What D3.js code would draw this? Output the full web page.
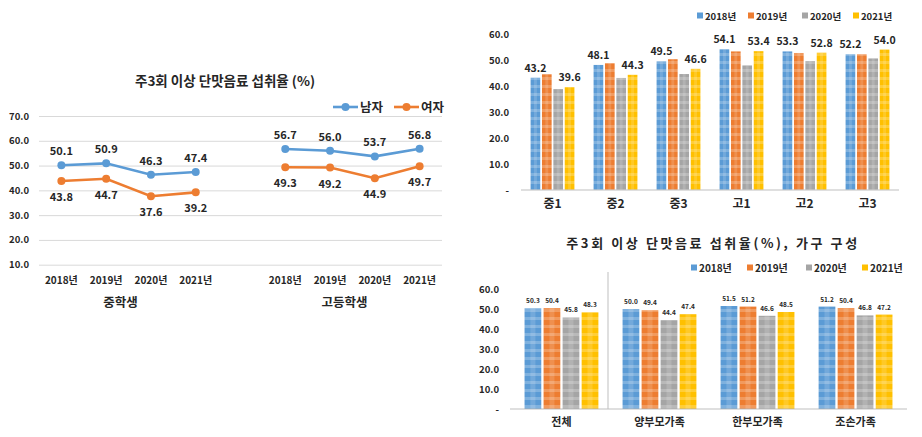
<!DOCTYPE html>
<html><head><meta charset="utf-8">
<script src="https://cdn.jsdelivr.net/npm/d3@7"></script>
<style>body{margin:0;background:#fff}svg{display:block}text{font-family:"Noto Sans CJK KR","Noto Sans",sans-serif;font-weight:700;fill:#262626}</style>
</head><body><svg id="c" width="922" height="437"></svg>
<script>
// ---- data ----
const lineYears = ["2018년","2019년","2020년","2021년"];
const lineGroups = ["중학생","고등학생"];
const maleValues = [50.1,50.9,46.3,47.4,56.7,56.0,53.7,56.8];
const femaleValues = [43.8,44.7,37.6,39.2,49.3,49.2,44.9,49.7];
const lineTicks = [10,20,30,40,50,60,70];

const barYears = ["2018년","2019년","2020년","2021년"];
const gradeCats = ["중1","중2","중3","고1","고2","고3"];
const grade2018 = [43.2,48.1,49.5,54.1,53.3,52.2];
const grade2019 = [44.5,48.8,50.3,53.3,52.7,52.2];
const grade2020 = [38.8,43.1,44.6,47.9,49.6,50.6];
const grade2021 = [39.6,44.3,46.6,53.4,52.8,54.0];
const gradeTicks = [0,10,20,30,40,50,60];

const familyCats = ["전체","양부모가족","한부모가족","조손가족"];
const family2018 = [50.3,50.0,51.5,51.2];
const family2019 = [50.4,49.4,51.2,50.4];
const family2020 = [45.8,44.4,46.6,46.8];
const family2021 = [48.3,47.4,48.5,47.2];
const familyTicks = [0,10,20,30,40,50,60];

const colors = ["#5B9BD5","#ED7D31","#A5A5A5","#FFC000"];
const svg = d3.select("#c");
const fmt = d3.format(".1f");
const tickFmt = v => v === 0 ? "-" : fmt(v);

// patterns
const defs = svg.append("defs");
colors.forEach((c,i)=>{
  const p = defs.append("pattern").attr("id","pat"+i).attr("patternUnits","userSpaceOnUse")
    .attr("width",8).attr("height",8);
  p.append("rect").attr("width",8).attr("height",8).attr("fill",c);
  p.append("rect").attr("y",5).attr("width",8).attr("height",3).attr("fill","#fff").attr("opacity",0.22);
});

// ---- left line chart ----
{
  const y = d3.scaleLinear().domain([10,70]).range([264.7,116]);
  const slots = d3.range(9);
  const x = d3.scaleBand().domain(slots).range([39,442]);
  const cx = k => { const g = Math.floor(k/4), i = k%4; return x(g*5+i)+x.bandwidth()/2; };
  svg.append("text").attr("x",225).attr("y",85.5).attr("text-anchor","middle").attr("font-size",13.5).text("주3회 이상 단맛음료 섭취율 (%)");
  const gy = svg.append("g").attr("transform","translate(39,0)")
    .call(d3.axisLeft(y).tickValues(lineTicks).tickFormat(fmt).tickSize(-403).tickPadding(10));
  gy.select(".domain").remove();
  gy.selectAll("line").attr("stroke","#d9d9d9").attr("stroke-width",1);
  gy.selectAll("text").attr("font-size",9.5).style("font-family","'Noto Sans CJK KR',sans-serif").attr("font-weight",700).attr("fill","#262626");
  // x labels
  lineGroups.forEach((g,gi)=>{
    lineYears.forEach((yr,i)=>{
      svg.append("text").attr("x",cx(gi*4+i)).attr("y",284).attr("text-anchor","middle").attr("font-size",10).text(yr);
    });
    const mid = (cx(gi*4)+cx(gi*4+3))/2 - 8;
    svg.append("text").attr("x",mid).attr("y",307).attr("text-anchor","middle").attr("font-size",12.5).text(g);
  });
  const series = [{v:maleValues,c:colors[0],dy:-10},{v:femaleValues,c:colors[1],dy:20}];
  const line = d3.line().x(d=>cx(d.k)).y(d=>y(d.v));
  series.forEach(s=>{
    lineGroups.forEach((g,gi)=>{
      const pts = d3.range(4).map(i=>({k:gi*4+i,v:s.v[gi*4+i]}));
      svg.append("path").attr("d",line(pts)).attr("fill","none").attr("stroke",s.c).attr("stroke-width",2.6);
      svg.selectAll(null).data(pts).enter().append("circle").attr("cx",d=>cx(d.k)).attr("cy",d=>y(d.v)).attr("r",4).attr("fill",s.c);
      svg.selectAll(null).data(pts).enter().append("text").attr("x",d=>cx(d.k)).attr("y",d=>y(d.v)+s.dy)
        .attr("text-anchor","middle").attr("font-size",11).text(d=>fmt(d.v));
    });
  });
  // legend
  const leg = [["남자",333],["여자",394]];
  leg.forEach(([t,lx],i)=>{
    svg.append("line").attr("x1",lx).attr("x2",lx+25).attr("y1",107).attr("y2",107).attr("stroke",colors[i]).attr("stroke-width",2.6);
    svg.append("circle").attr("cx",lx+12.5).attr("cy",107).attr("r",4).attr("fill",colors[i]);
    svg.append("text").attr("x",lx+27).attr("y",111.5).attr("font-size",12.5).text(t);
  });
}

function barChart(opt){
  const y = d3.scaleLinear().domain([0,60]).range([opt.y0,opt.y60]);
  const x = d3.scaleBand().domain(opt.cats).range([opt.x0,opt.x1]).paddingInner(opt.pi).paddingOuter(opt.po);
  const xs = d3.scaleBand().domain(barYears).range([0,x.bandwidth()]).padding(opt.sp);
  const gy = svg.append("g").attr("transform",`translate(${opt.x0},0)`)
    .call(d3.axisLeft(y).tickValues(opt.ticks).tickFormat(tickFmt).tickSize(0).tickPadding(opt.tp));
  gy.select(".domain").remove();
  gy.selectAll("text").attr("font-size",opt.tfs).style("font-family","'Noto Sans CJK KR',sans-serif").attr("font-weight",700).attr("fill","#262626");
  opt.series.forEach((vals,si)=>{
    opt.cats.forEach((c,ci)=>{
      const bx = x(c)+xs(barYears[si]), by = y(vals[ci]);
      svg.append("rect").attr("x",bx).attr("y",by).attr("width",xs.bandwidth()).attr("height",opt.y0-by).attr("fill",`url(#pat${si})`);
      svg.append("rect").attr("x",bx+xs.bandwidth()*0.35).attr("y",by).attr("width",xs.bandwidth()*0.3).attr("height",opt.y0-by).attr("fill","#fff").attr("opacity",0.15);
      if(opt.labelSeries.includes(si)){
        svg.append("text").attr("x",bx+xs.bandwidth()/2).attr("y",by-opt.ldy).attr("text-anchor","middle").attr("font-size",opt.lfs).text(fmt(vals[ci]));
      }
    });
  });
  svg.append("line").attr("x1",opt.x0).attr("x2",opt.x1).attr("y1",opt.y0).attr("y2",opt.y0).attr("stroke","#bfbfbf").attr("stroke-width",1);
  opt.cats.forEach(c=>{
    svg.append("text").attr("x",x(c)+x.bandwidth()/2).attr("y",opt.y0+opt.cdy).attr("text-anchor","middle").attr("font-size",opt.cfs).text(c);
  });
  barYears.forEach((yr,i)=>{
    svg.append("rect").attr("x",opt.legX[i]).attr("y",opt.legY-3.5).attr("width",6).attr("height",6).attr("fill",colors[i]);
    svg.append("text").attr("x",opt.legX[i]+8).attr("y",opt.legY+3.5).attr("font-size",opt.legFs).text(yr);
  });
  return x;
}

barChart({cats:gradeCats, series:[grade2018,grade2019,grade2020,grade2021], ticks:gradeTicks,
  y0:190, y60:34, x0:521, x1:899, pi:0.25, po:0.125, sp:0.15, tp:12, tfs:9.5,
  labelSeries:[0,3], ldy:6, lfs:10.5, cdy:18, cfs:12,
  legX:[697,748,802,853], legY:16, legFs:9.5});

barChart({cats:familyCats, series:[family2018,family2019,family2020,family2021], ticks:familyTicks,
  y0:409, y60:289, x0:510, x1:907, pi:0.2, po:0.125, sp:0.12, tp:11, tfs:9.5,
  labelSeries:[0,1,2,3], ldy:5, lfs:6.5, cdy:17, cfs:11,
  legX:[691,747,806,862], legY:268, legFs:10});
svg.append("line").attr("x1",608).attr("x2",608).attr("y1",272).attr("y2",409).attr("stroke","#bfbfbf");
svg.append("text").attr("x",713).attr("y",248).attr("text-anchor","middle").attr("font-size",13).attr("letter-spacing",2.6).text("주3회 이상 단맛음료 섭취율(%), 가구 구성");
</script></body></html>
